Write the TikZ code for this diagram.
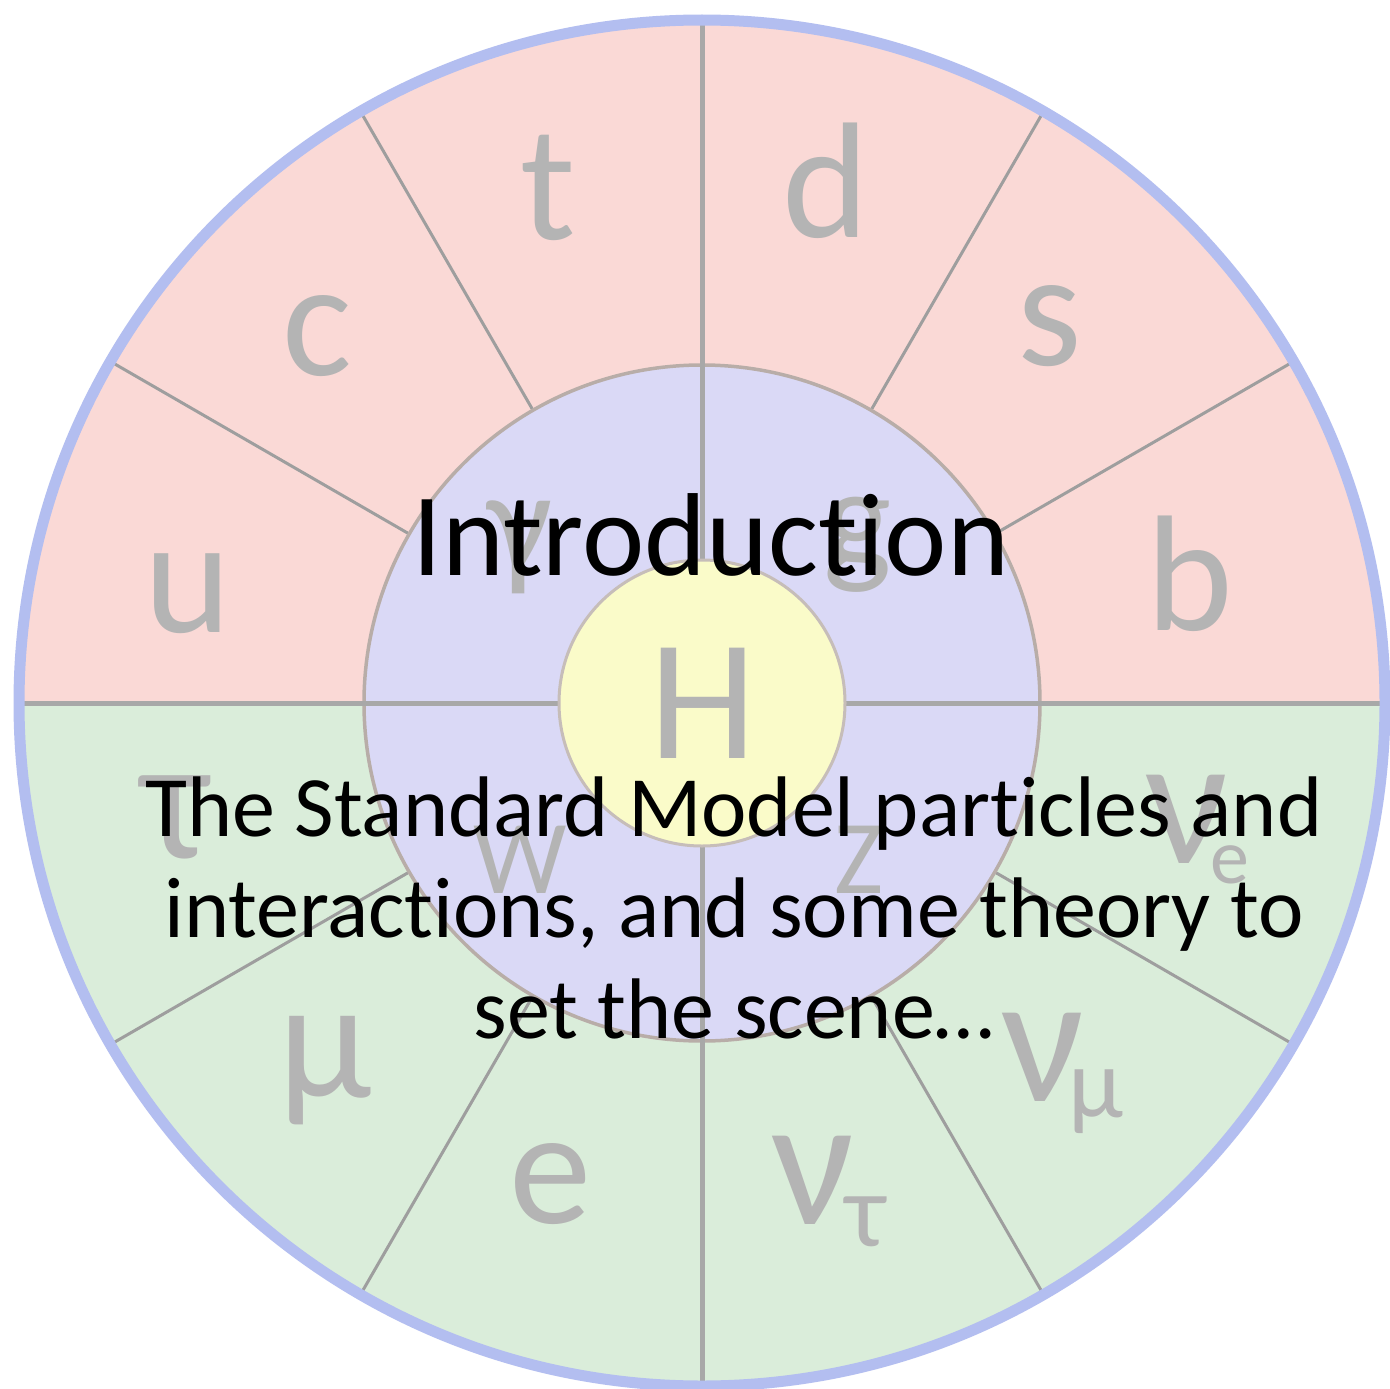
\documentclass[tikz,border=0pt]{standalone}
\usepackage{fontspec}
\setmainfont{Carlito}[Ligatures=NoCommon]
\usetikzlibrary{calc}
\definecolor{ringred}{HTML}{FAD9D6}
\definecolor{ringgreen}{HTML}{DAEDDA}
\definecolor{ringblue}{HTML}{DAD9F6}
\definecolor{hyellow}{HTML}{FAFBC9}
\definecolor{rimblue}{HTML}{B3BEF0}
\definecolor{spokegray}{HTML}{9E9E9E}
\definecolor{edgegray}{HTML}{B8ADA8}
\definecolor{labelgray}{HTML}{B4B4B4}
\tikzset{
  lbl/.style={anchor=base, inner sep=0pt, text=labelgray},
  maintext/.style={anchor=base, inner sep=0pt, text=black},
  spoke/.style={draw=spokegray, line width=3pt},
  axis/.style={draw=spokegray!90, line width=5pt},
}
\newcommand{\fs}[1]{\fontsize{#1}{#1}\selectfont}
\begin{document}
\begin{tikzpicture}[x=1pt,y=-1pt]
\useasboundingbox (0,0) rectangle (1390,1389);
\fill[white] (0,0) rectangle (1390,1389);
\coordinate (O) at (702,703);
% outer ring halves
\fill[ringred] (O) ++(-683,0) arc[start angle=180, end angle=360, radius=683] -- cycle;
\fill[ringgreen] (O) ++(683,0) arc[start angle=0, end angle=180, radius=683] -- cycle;
% spokes in outer ring
\foreach \a in {30,60,120,150,210,240,300,330}
  \draw[spoke] ($(O)+(\a:338)$) -- ($(O)+(\a:683)$);
% inner ring
\fill[ringblue] (O) circle[radius=338];
\draw[edgegray, line width=3.5pt] (O) circle[radius=338];
% axes
\draw[axis] ($(O)+(-683,0)$) -- ($(O)+(683,0)$);
\draw[axis] ($(O)+(0,-683)$) -- ($(O)+(0,683)$);
% yellow centre
\fill[hyellow] (O) circle[radius=143];
\draw[edgegray!80, line width=3pt] (O) circle[radius=143];
% outer rim
\draw[rimblue, line width=11pt] (O) circle[radius=683];
% outer labels
\node[lbl, font=\fs{165}] (lu) at (188,632) {u};
\node[lbl, font=\fs{165}] (lc) at (317,375) {c};
\node[lbl, font=\fs{165}] (lt) at (548,239) {t};
\node[lbl, font=\fs{165}] (ld) at (826,237) {d};
\node[lbl, font=\fs{165}] (ls) at (1050,365) {s};
\node[lbl, font=\fs{165}] (lb) at (1190,630) {b};
\node[lbl, font=\fs{175}] (ltau) at (175,858) {τ};
\node[lbl, font=\fs{170}] (lmu) at (325,1097) {μ};
\node[lbl, font=\fs{165}] (le) at (551,1223) {e};
\node[lbl, font=\fs{185}] (lnt) at (813,1224) {ν};
\node[lbl, font=\fs{105}] (lnts) at (866,1246) {τ};
\node[lbl, font=\fs{185}] (lnm) at (1043,1101) {ν};
\node[lbl, font=\fs{100}] (lnms) at (1096,1117) {μ};
\node[lbl, font=\fs{185}] (lne) at (1187,863) {ν};
\node[lbl, font=\fs{78}] (lnes) at (1230,883) {e};
% inner labels
\node[lbl, font=\fs{145}] (lgam) at (520,570) {γ};
\node[lbl, font=\fs{145}] (lg) at (858,567) {g};
\node[lbl, font=\fs{105}] (lw) at (520,893) {W};
\node[lbl, font=\fs{105}] (lz) at (859,893) {Z};
\node[lbl, font=\fs{172}] (lh) at (703,758) {H};
% main text
\node[maintext, font=\fs{118}] (title) at (711,575) {Introduction};
\node[maintext, font=\fs{86}] (l1) at (734,836) {The Standard Model particles and};
\node[maintext, font=\fs{86}] (l2) at (734,937) {interactions, and some theory to};
\node[maintext, font=\fs{86}] (l3) at (734,1038) {set the scene…};
\end{tikzpicture}
\end{document}
